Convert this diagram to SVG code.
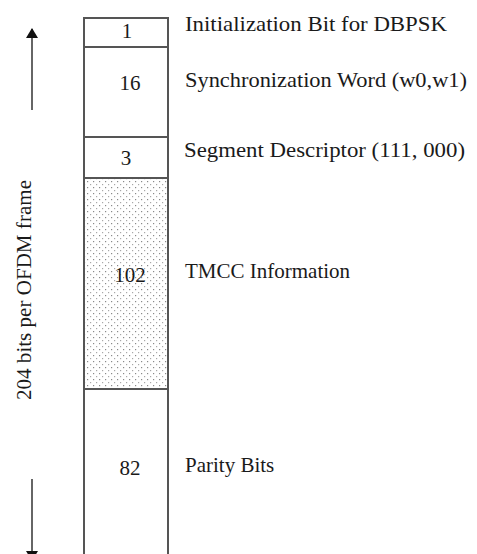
<svg xmlns="http://www.w3.org/2000/svg" width="477" height="554" viewBox="0 0 477 554">
<style>
.t{font-family:"Liberation Serif","Times New Roman",serif;font-size:21px;fill:#1a1a1a}
.n{font-family:"Liberation Serif","Times New Roman",serif;font-size:21px;fill:#1a1a1a;text-anchor:middle}
.b{fill:none;stroke:#555;stroke-width:2}
.ar{stroke:#666;stroke-width:2}
</style>
<defs>
<pattern id="dots" width="6" height="6" patternUnits="userSpaceOnUse" x="86" y="180">
<rect x="1" y="1" width="1.2" height="1.2" fill="#8a8a8a"/>
<rect x="4" y="4" width="1.2" height="1.2" fill="#a8a8a8"/>
</pattern>
<marker id="ah" markerWidth="10" markerHeight="12" refX="9" refY="6" orient="auto" markerUnits="userSpaceOnUse" viewBox="0 0 10 12">
<path d="M0,0 L10,6 L0,12 Z" fill="#111"/>
</marker>
</defs>
<g id="frame">
<rect x="84" y="178" width="84" height="211" fill="url(#dots)"/>
<path class="b" d="M84,560 V18 H168 V560"/>
</g>
<g id="seg1"><line class="b" x1="84" y1="47" x2="168" y2="47"/><text class="n" x="127" y="38">1</text></g>
<g id="seg16"><line class="b" x1="84" y1="137" x2="168" y2="137"/><text class="n" x="130" y="90">16</text></g>
<g id="seg3"><line class="b" x1="84" y1="178" x2="168" y2="178"/><text class="n" x="126" y="165">3</text></g>
<g id="seg102"><line class="b" x1="84" y1="389" x2="168" y2="389"/><text class="n" x="130" y="282">102</text></g>
<g id="seg82"><text class="n" x="130" y="475">82</text></g>
<g id="labels">
<text class="t" x="185" y="31" textLength="262" lengthAdjust="spacingAndGlyphs">Initialization Bit for DBPSK</text>
<text class="t" x="185" y="87" textLength="282" lengthAdjust="spacingAndGlyphs">Synchronization Word (w0,w1)</text>
<text class="t" x="184" y="157" textLength="281" lengthAdjust="spacingAndGlyphs">Segment Descriptor (111, 000)</text>
<text class="t" x="185" y="278">TMCC Information</text>
<text class="t" x="185" y="472">Parity Bits</text>
</g>
<g id="connectors">
<line class="ar" x1="32" y1="110" x2="32" y2="29" marker-end="url(#ah)"/>
<line class="ar" x1="32" y1="479" x2="32" y2="560" marker-end="url(#ah)"/>
</g>
<g id="axis-label">
<text class="t" transform="translate(31,400) rotate(-90)" textLength="220" lengthAdjust="spacingAndGlyphs">204 bits per OFDM frame</text>
</g>
</svg>
